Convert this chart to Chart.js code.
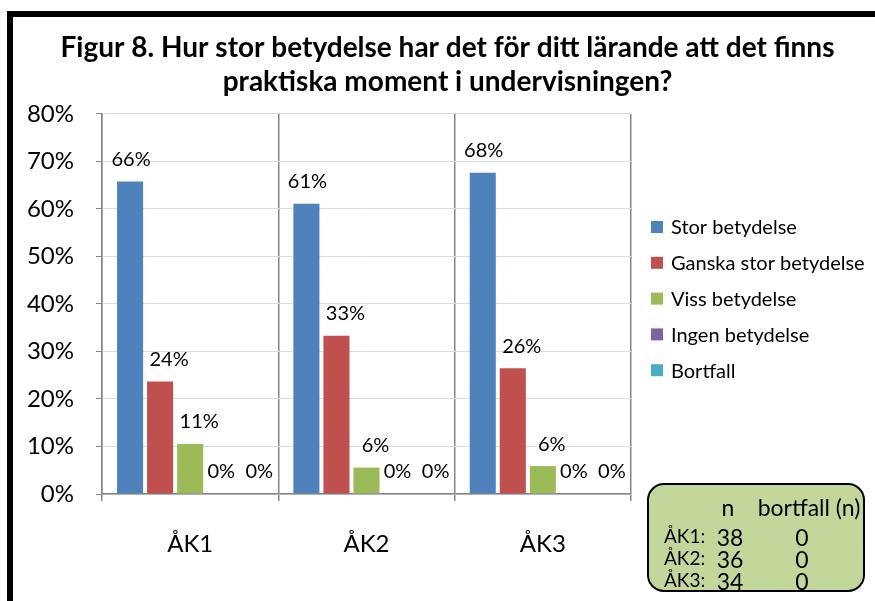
<!DOCTYPE html>
<html><head><meta charset="utf-8">
<script src="https://cdn.jsdelivr.net/npm/chart.js@4/dist/chart.umd.min.js"></script>
<style>html,body{margin:0;padding:0;background:#fff;overflow:hidden}#wrap{width:875px;height:601px}</style>
</head><body><div id="wrap"><canvas id="c" width="875" height="601"></canvas></div>
<script>
const categories = ['ÅK1', 'ÅK2', 'ÅK3'];
const seriesNames = ['Stor betydelse', 'Ganska stor betydelse', 'Viss betydelse', 'Ingen betydelse', 'Bortfall'];
const storBetydelse = [65.79, 61.11, 67.65];
const ganskaStorBetydelse = [23.68, 33.33, 26.47];
const vissBetydelse = [10.53, 5.56, 5.88];
const ingenBetydelse = [0, 0, 0];
const bortfall = [0, 0, 0];
const yTickValues = [0, 10, 20, 30, 40, 50, 60, 70, 80];
const nValues = [38, 36, 34];
const bortfallN = [0, 0, 0];
const titleLines = ['Figur 8. Hur stor betydelse har det för ditt lärande att det finns', 'praktiska moment i undervisningen?'];
const seriesColors = ['#4F81BD', '#C0504D', '#9BBB59', '#8064A2', '#4BACC6'];

const FONT = 'Lato, "Open Sans", sans-serif';
const seriesValues = [storBetydelse, ganskaStorBetydelse, vissBetydelse, ingenBetydelse, bortfall];
const labelShift = [0, 8, 8, 0, 8];

const frame = {
  id: 'frame',
  beforeDraw(chart) {
    const ctx = chart.ctx;
    ctx.save();
    ctx.fillStyle = '#fff';
    ctx.fillRect(0, 0, chart.width, chart.height);
    ctx.restore();
  },
  afterDraw(chart) {
    const ctx = chart.ctx;
    ctx.save();
    ctx.fillStyle = '#000';
    ctx.fillRect(7, 11, chart.width - 7, 6);
    ctx.fillRect(7, 11, 6, chart.height - 11);
    ctx.restore();
  }
};

const valueLabels = {
  id: 'valueLabels',
  afterDatasetsDraw(chart) {
    const ctx = chart.ctx;
    ctx.save();
    ctx.font = '20px ' + FONT;
    ctx.fillStyle = '#000';
    ctx.textAlign = 'center';
    ctx.textBaseline = 'middle';
    chart.data.datasets.forEach((ds, di) => {
      chart.getDatasetMeta(di).data.forEach((bar, i) => {
        ctx.fillText(Math.round(ds.data[i]) + '%', bar.x + 1 + labelShift[di], bar.y - 22);
      });
    });
    ctx.restore();
  }
};

const sideLegend = {
  id: 'sideLegend',
  afterDraw(chart) {
    const ctx = chart.ctx;
    ctx.save();
    ctx.font = '20px ' + FONT;
    ctx.textBaseline = 'middle';
    ctx.textAlign = 'left';
    chart.data.datasets.forEach((ds, i) => {
      const cy = 227 + i * 35.8;
      ctx.fillStyle = ds.backgroundColor;
      ctx.fillRect(651, cy - 6, 12, 12);
      ctx.fillStyle = '#000';
      ctx.fillText(ds.label, 671, cy + 1);
    });
    ctx.restore();
  }
};

const nBox = {
  id: 'nBox',
  afterDraw(chart) {
    const ctx = chart.ctx;
    ctx.save();
    ctx.beginPath();
    ctx.roundRect(648, 484, 216, 107, 16);
    ctx.fillStyle = '#C4D79B';
    ctx.fill();
    ctx.lineWidth = 2;
    ctx.strokeStyle = '#000';
    ctx.stroke();
    ctx.fillStyle = '#000';
    ctx.textBaseline = 'middle';
    ctx.textAlign = 'center';
    ctx.font = '23px ' + FONT;
    ctx.fillText('n', 728, 509);
    ctx.fillText('bortfall (n)', 809, 509);
    categories.forEach((c, i) => {
      const y = 538 + i * 22;
      ctx.textAlign = 'left';
      ctx.font = '19px ' + FONT;
      ctx.fillText(c + ':', 664, y - 1);
      ctx.textAlign = 'center';
      ctx.font = '23px ' + FONT;
      ctx.fillText(String(nValues[i]), 730, y + 1);
      ctx.fillText(String(bortfallN[i]), 802, y + 1);
    });
    ctx.restore();
  }
};

new Chart(document.getElementById('c'), {
  type: 'bar',
  data: {
    labels: categories,
    datasets: seriesNames.map((name, i) => ({
      label: name,
      data: seriesValues[i],
      backgroundColor: seriesColors[i],
      borderWidth: 0,
      categoryPercentage: 0.852,
      barPercentage: 0.867
    }))
  },
  options: {
    responsive: false,
    devicePixelRatio: 1,
    animation: false,
    layout: { padding: { left: 20, right: 0, top: 14, bottom: 0 } },
    plugins: {
      legend: { display: false },
      tooltip: { enabled: false },
      title: {
        display: true,
        text: titleLines,
        color: '#000',
        font: { family: FONT, size: 28, weight: 'bold', lineHeight: 1.214 },
        padding: { top: 16.5, bottom: 15.5 }
      }
    },
    scales: {
      x: {
        grid: { offset: true, color: '#868686', lineWidth: 1.5, tickLength: 7 },
        border: { color: '#868686', width: 1.5 },
        ticks: { color: '#000', font: { family: FONT, size: 24 }, padding: 29 },
        afterFit(s) { s.height = 107; }
      },
      y: {
        min: 0,
        max: 80,
        afterBuildTicks(s) { s.ticks = yTickValues.map(v => ({ value: v })); },
        ticks: { color: '#000', font: { family: FONT, size: 24 }, padding: 22, callback: v => v + '%' },
        grid: { color: '#D3DEEE', lineWidth: 1, tickColor: '#868686', tickLength: 6 },
        border: { color: '#868686', width: 1.5 },
        afterFit(s) { s.width = 82; }
      },
      yRightSpace: {
        position: 'right',
        display: true,
        grid: { display: false, drawTicks: false },
        border: { display: false },
        ticks: { display: false },
        afterFit(s) { s.width = 244; }
      }
    }
  },
  plugins: [frame, valueLabels, sideLegend, nBox]
});
</script></body></html>
